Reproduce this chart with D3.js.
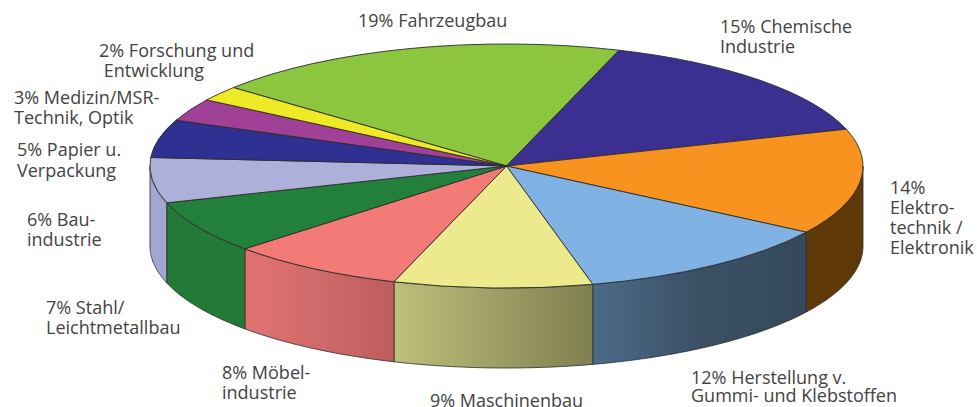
<!DOCTYPE html>
<html>
<head>
<meta charset="utf-8">
<script src="https://cdn.jsdelivr.net/npm/d3@7"></script>
<style>
body {margin:0;background:#fff;overflow:hidden;}
text {font-family:"Open Sans",sans-serif;font-size:18px;fill:#434343;}
</style>
</head>
<body>
<script>
// Anteile im Uhrzeigersinn, beginnend beim Fahrzeugbau
var categories = ["Fahrzeugbau","Chemische Industrie","Elektrotechnik / Elektronik","Herstellung v. Gummi- und Klebstoffen","Maschinenbau","Möbelindustrie","Stahl/Leichtmetallbau","Bauindustrie","Papier u. Verpackung","Medizin/MSR-Technik, Optik","Forschung und Entwicklung"];
var shares = [19,15,14,12,9,8,7,6,5,3,2];
var topColors = ["#8cc63f","#3c2f92","#f7931e","#80b3e3","#ecea8c","#f47a77","#23803a","#adb0d9","#2e3192","#a14097","#f0e926"];
var sideFrom = ["#6a962f","#2c2270","#5f3807","#4b6b8a","#bdbf7a","#e27272","#237a36","#a3a6d1","#22246e","#7a3072","#b5b01d"];
var sideMid = ["#6a962f","#2c2270","#5f3807","#3a5064","#9fa066","#d06a6a","#237a36","#a3a6d1","#22246e","#7a3072","#b5b01d"];
var sideTo = ["#6a962f","#2c2270","#5f3807","#36495c","#7f7f50","#bd5d5d","#237a36","#a3a6d1","#22246e","#7a3072","#b5b01d"];

var labelLines = [
  ["19% Fahrzeugbau"],
  ["15% Chemische","Industrie"],
  ["14%","Elektro-","technik /","Elektronik"],
  ["12% Herstellung v.","Gummi- und Klebstoffen"],
  ["9% Maschinenbau"],
  ["8% Möbel-","industrie"],
  ["7% Stahl/","Leichtmetallbau"],
  ["6% Bau-","industrie"],
  ["5% Papier u.","Verpackung"],
  ["3% Medizin/MSR-","Technik, Optik"],
  ["2% Forschung und"," Entwicklung"]
];
var labelX = [358,720,890,691,430,222,46,27,17,14,99];
var labelY = [27,33,194,384,407,379,314,226,156,104,57];
var labelGap = [20,20,20,18,20,20,20,20,21,20,20];

var width = 977, height = 407;
var rx = 356.5, ry = 122, depth = 80;
var cx = 506.5, cy = 166;

var x = d3.scaleLinear().domain([-1,1]).range([cx-rx,cx+rx]);
var y = d3.scaleLinear().domain([-1,1]).range([cy-ry,cy+ry]);

var svg = d3.select("body").append("svg").attr("width",width).attr("height",height);
var defs = svg.append("defs");

var pie = d3.pie().sort(null).startAngle(-50*Math.PI/180).endAngle(310*Math.PI/180);
var slices = pie(shares);

// Mantelflaeche: nur der vordere Teil des Randes (90 bis 270 Grad) ist sichtbar
var wall = d3.area()
    .x(function(a){return x(Math.sin(a));})
    .y0(function(a){return y(-Math.cos(a));})
    .y1(function(a){return y(-Math.cos(a))+depth;});

slices.forEach(function(d,i){
  var g = defs.append("linearGradient").attr("id","side"+i);
  g.append("stop").attr("offset","0").attr("stop-color",sideFrom[i]);
  g.append("stop").attr("offset","0.5").attr("stop-color",sideMid[i]);
  g.append("stop").attr("offset","1").attr("stop-color",sideTo[i]);
});

svg.append("g").selectAll("path")
  .data(slices.filter(function(d){return d.endAngle>Math.PI/2 && d.startAngle<1.5*Math.PI;}))
  .enter().append("path")
    .attr("d",function(d){
      var a0 = Math.max(d.startAngle,Math.PI/2), a1 = Math.min(d.endAngle,1.5*Math.PI);
      return wall(d3.range(0,41).map(function(k){return a0+(a1-a0)*k/40;}));
    })
    .attr("fill",function(d){return "url(#side"+d.index+")";})
    .attr("stroke","#2b2b2b")
    .attr("stroke-width",0.8);

var arc = d3.arc().innerRadius(0).outerRadius(1);

svg.append("g")
    .attr("transform","translate("+x(0)+","+y(0)+") scale("+rx+","+ry+")")
  .selectAll("path")
  .data(slices)
  .enter().append("path")
    .attr("d",arc)
    .attr("fill",function(d){return topColors[d.index];})
    .attr("stroke","#2b2b2b")
    .attr("stroke-width",0.9)
    .attr("vector-effect","non-scaling-stroke");

var labels = svg.append("g").selectAll("text")
  .data(labelLines)
  .enter().append("text")
    .attr("xml:space","preserve")
    .style("white-space","pre");

labels.selectAll("tspan")
  .data(function(d,i){return d.map(function(s,k){return {s:s,k:k,i:i};});})
  .enter().append("tspan")
    .attr("x",function(d){return labelX[d.i];})
    .attr("y",function(d){return labelY[d.i]+d.k*labelGap[d.i];})
    .text(function(d){return d.s;});
</script>
</body>
</html>
